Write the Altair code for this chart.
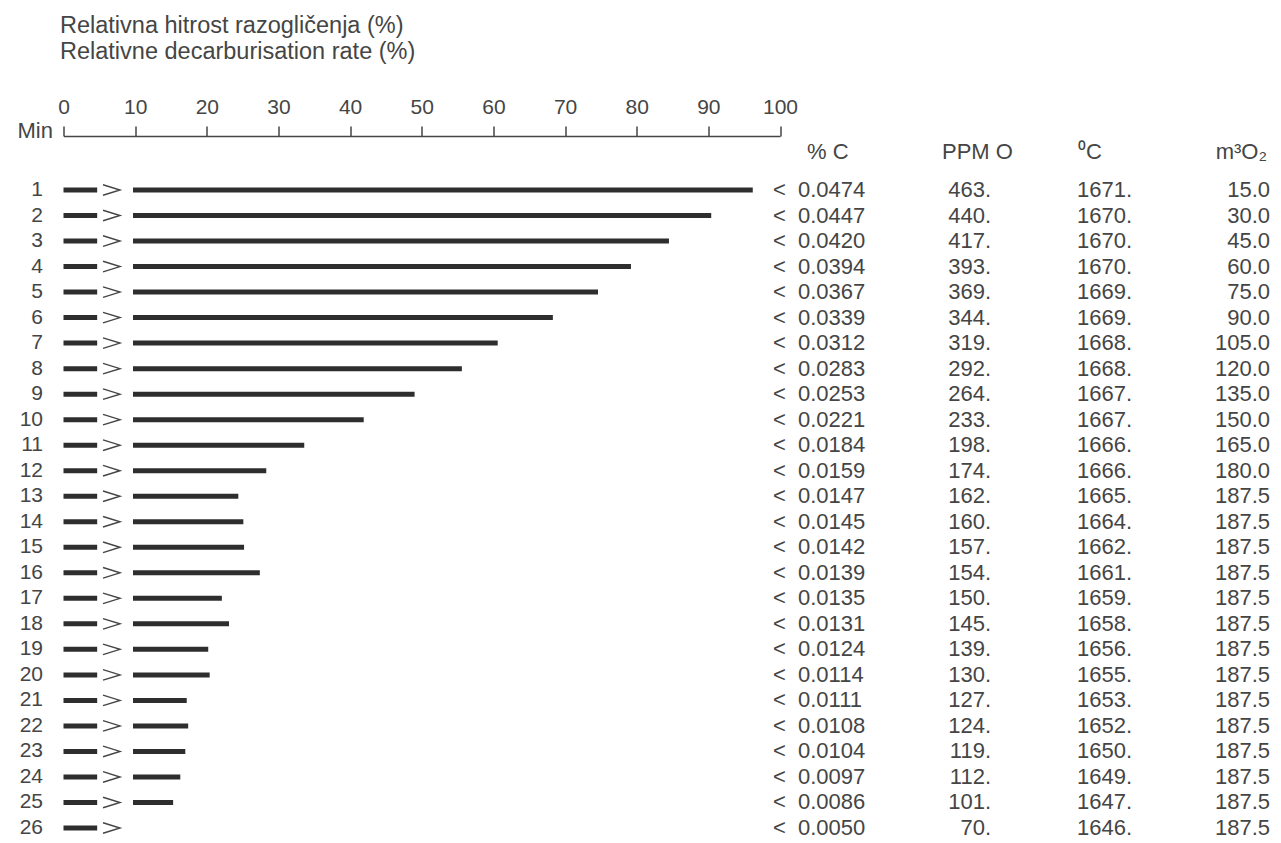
import altair as alt
import pandas as pd

# ---- data ----
rows = list(range(1, 27))
rate = [96.2, 90.4, 84.5, 79.2, 74.6, 68.3, 60.6, 55.6, 49.0, 41.9,
        33.6, 28.3, 24.4, 25.1, 25.2, 27.4, 22.1, 23.1, 20.2, 20.4,
        17.2, 17.4, 17.0, 16.3, 15.3, None]
pct_c = ["0.0474", "0.0447", "0.0420", "0.0394", "0.0367", "0.0339", "0.0312",
         "0.0283", "0.0253", "0.0221", "0.0184", "0.0159", "0.0147", "0.0145",
         "0.0142", "0.0139", "0.0135", "0.0131", "0.0124", "0.0114", "0.0111",
         "0.0108", "0.0104", "0.0097", "0.0086", "0.0050"]
ppm_o = ["463.", "440.", "417.", "393.", "369.", "344.", "319.", "292.", "264.",
         "233.", "198.", "174.", "162.", "160.", "157.", "154.", "150.", "145.",
         "139.", "130.", "127.", "124.", "119.", "112.", "101.", "70."]
temp_c = ["1671.", "1670.", "1670.", "1670.", "1669.", "1669.", "1668.", "1668.",
          "1667.", "1667.", "1666.", "1666.", "1665.", "1664.", "1662.", "1661.",
          "1659.", "1658.", "1656.", "1655.", "1653.", "1652.", "1650.", "1649.",
          "1647.", "1646."]
m3_o2 = ["15.0", "30.0", "45.0", "60.0", "75.0", "90.0", "105.0", "120.0",
         "135.0", "150.0", "165.0", "180.0", "187.5", "187.5", "187.5", "187.5",
         "187.5", "187.5", "187.5", "187.5", "187.5", "187.5", "187.5", "187.5",
         "187.5", "187.5"]
ticks = [0, 10, 20, 30, 40, 50, 60, 70, 80, 90, 100]
title_lines = ["Relativna hitrost razogličenja (%)", "Relativne decarburisation rate (%)"]
headers = ["% C", "PPM O", "\u2070C", "m\u00b3O\u2082"]
bar_start = 9.7

df = pd.DataFrame({"row": rows, "rate": rate, "pct": pct_c, "ppm": ppm_o,
                   "temp": temp_c, "o2": m3_o2, "lt": ["<"] * len(rows)})

FONT = "Liberation Sans"
TXT = "#454545"
DARK = "#2e2e2e"

xscale = alt.Scale(domain=[0, 100])
yscale = alt.Scale(domain=[1, 26], range=[54, 692])
yenc = alt.Y("row:Q", scale=yscale, axis=None)

base = alt.Chart(df)

bars = base.mark_rule(strokeWidth=5, strokeCap="butt", color=DARK).encode(
    x=alt.X("rate:Q", scale=xscale,
            axis=alt.Axis(orient="top", values=ticks, tickSize=10, tickWidth=1.5,
                          tickColor=TXT, domainColor=TXT, domainWidth=1.5,
                          labelFontSize=21, labelFont=FONT, labelColor=TXT,
                          labelPadding=9, grid=False, title=None,
                          labelFlush=False, labelOverlap=False)),
    x2=alt.datum(bar_start),
    y=yenc,
)

dash = base.mark_rule(strokeWidth=5, strokeCap="butt", color=DARK).encode(
    x=alt.datum(0, scale=xscale), x2=alt.datum(4.7), y=yenc)

chevron = base.mark_point(shape="M-1,-0.62L1,0L-1,0.62", filled=False, size=289,
                          strokeWidth=1.4, color=TXT, opacity=1).encode(
    x=alt.datum(6.7), y=yenc)

def col_text(field, xpos, align, fs=22):
    return base.mark_text(font=FONT, fontSize=fs, color=TXT, align=align,
                          baseline="middle").encode(
        x=alt.value(xpos), y=yenc, text=alt.Text(f"{field}:N"))

row_lab = col_text("row", -20.5, "right", 21)
lt = col_text("lt", 709.5, "left")
pct = col_text("pct", 734.5, "left")
ppm = col_text("ppm", 927.5, "right")
tmp = col_text("temp", 1013.5, "left")
o2 = col_text("o2", 1206.5, "right")

def single(text, xpos, ypos, align, fs):
    return alt.Chart(pd.DataFrame({"t": [text]})).mark_text(
        font=FONT, fontSize=fs, color=TXT, align=align, baseline="middle").encode(
        x=alt.value(xpos), y=alt.value(ypos), text="t:N")

t1 = single(title_lines[0], -3.5, -110, "left", 23.5)
t2 = single(title_lines[1], -3.5, -84, "left", 23.5)
mn = single("Min", -10.5, -5, "right", 22)
h1 = single(headers[0], 743.5, 16, "left", 22)
h2 = single(headers[1], 878.5, 16, "left", 22)
h3 = single(headers[2], 1014.5, 16, "left", 22)
h4 = single(headers[3], 1203.5, 16, "right", 22)

chart = alt.layer(bars, dash, chevron, row_lab, lt, pct, ppm, tmp, o2,
                  t1, t2, mn, h1, h2, h3, h4).properties(
    width=716.5, height=700,
    autosize=alt.AutoSizeParams(type="none"),
    padding={"left": 55.5, "top": 128, "right": 492, "bottom": 7},
    background="white",
).configure_view(stroke=None)

chart.save("out.html", embed_options={"renderer": "svg", "actions": False})
